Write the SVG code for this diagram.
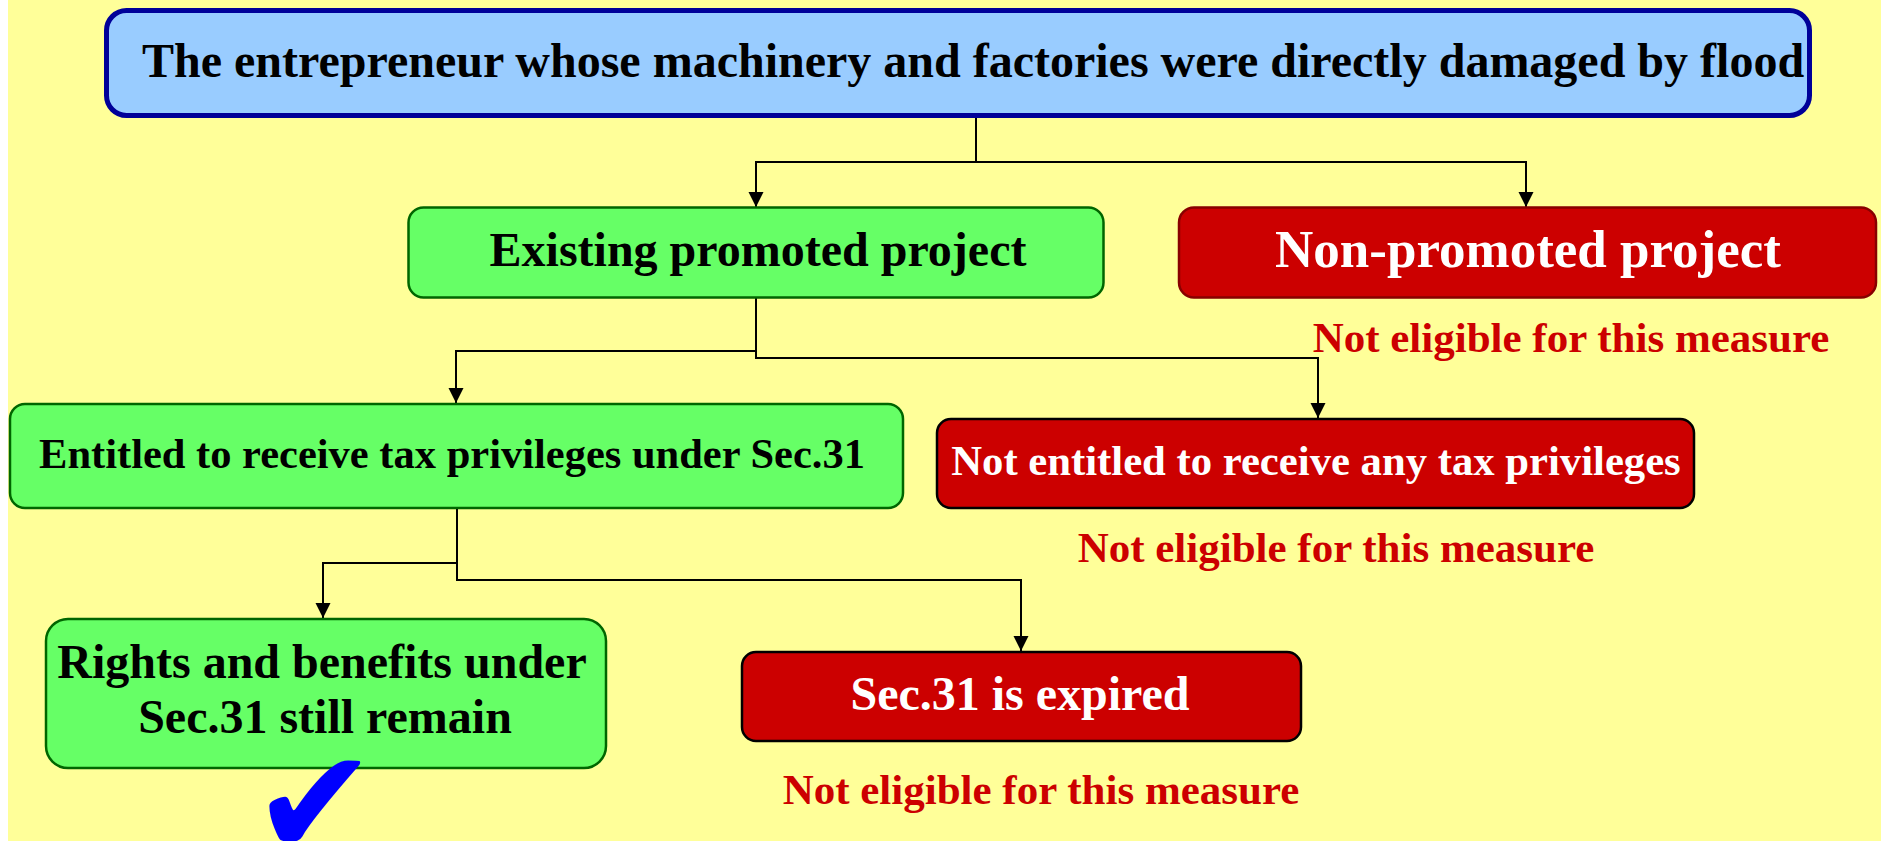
<svg xmlns="http://www.w3.org/2000/svg" width="1881" height="841" viewBox="0 0 1881 841">
  <defs>
    <marker id="arr" markerUnits="userSpaceOnUse" markerWidth="16" markerHeight="16" refX="15" refY="7.5" orient="auto">
      <path d="M0,0 L15,7.5 L0,15 Z" fill="#000"/>
    </marker>
    <style>
      .t { font-family: "Liberation Serif", "Times New Roman", serif; font-weight: bold; text-anchor: middle; }
      .blk { fill: #000; }
      .wht { fill: #fff; }
      .red { fill: #CC0000; }
      .green { fill: #66FF66; stroke: #006600; stroke-width: 2.5; }
      .redbox { fill: #CC0000; stroke: #000; stroke-width: 2.5; }
      .conn { fill: none; stroke: #000; stroke-width: 2; marker-end: url(#arr); }
    </style>
  </defs>
  <rect x="0" y="0" width="1881" height="841" fill="#fff"/>
  <rect x="8" y="0" width="1873" height="841" fill="#FFFF99"/>

  <g id="connectors">
    <path class="conn" d="M976,118 V162 H756 V207"/>
    <path class="conn" d="M976,162 H1526 V207"/>
    <path class="conn" d="M756,298 V351 H456 V403"/>
    <path class="conn" d="M756,351 V358 H1318 V418"/>
    <path class="conn" d="M457,508 V563 H323 V618"/>
    <path class="conn" d="M457,563 V580 H1021 V651"/>
  </g>

  <g id="n-top">
    <rect x="106.5" y="10.5" width="1703" height="105" rx="20" fill="#99CCFF" stroke="#000099" stroke-width="5"/>
    <text class="t blk" x="142" y="77" font-size="48" style="text-anchor:start">The entrepreneur whose machinery and factories were directly damaged by flood</text>
  </g>

  <g id="n-existing">
    <rect class="green" x="408.5" y="207.5" width="695" height="90" rx="15"/>
    <text class="t blk" x="758" y="266" font-size="48">Existing promoted project</text>
  </g>

  <g id="n-nonpromoted">
    <rect x="1179" y="207.5" width="697" height="90" rx="15" fill="#CC0000" stroke="#880000" stroke-width="2.5"/>
    <text class="t wht" x="1528" y="267" font-size="53">Non-promoted project</text>
    <text class="t red" x="1571" y="352" font-size="43">Not eligible for this measure</text>
  </g>

  <g id="n-entitled">
    <rect class="green" x="10" y="404" width="893" height="104" rx="15"/>
    <text class="t blk" x="452" y="468" font-size="42.5">Entitled to receive tax privileges under Sec.31</text>
  </g>

  <g id="n-notentitled">
    <rect class="redbox" x="937" y="419" width="757" height="89" rx="14"/>
    <text class="t wht" x="1316" y="475" font-size="42.7">Not entitled to receive any tax privileges</text>
    <text class="t red" x="1336" y="562" font-size="43">Not eligible for this measure</text>
  </g>

  <g id="n-rights">
    <rect class="green" x="46" y="619" width="560" height="149" rx="22"/>
    <text class="t blk" x="322" y="678" font-size="48">Rights and benefits under</text>
    <text class="t blk" x="325" y="733" font-size="48">Sec.31 still remain</text>
    <text x="252" y="855" font-family="DejaVu Sans, sans-serif" font-size="150" fill="#0000FF">✔</text>
  </g>

  <g id="n-expired">
    <rect class="redbox" x="742" y="652" width="559" height="89" rx="14"/>
    <text class="t wht" x="1020" y="710" font-size="48">Sec.31 is expired</text>
    <text class="t red" x="1041" y="804" font-size="43">Not eligible for this measure</text>
  </g>
</svg>
